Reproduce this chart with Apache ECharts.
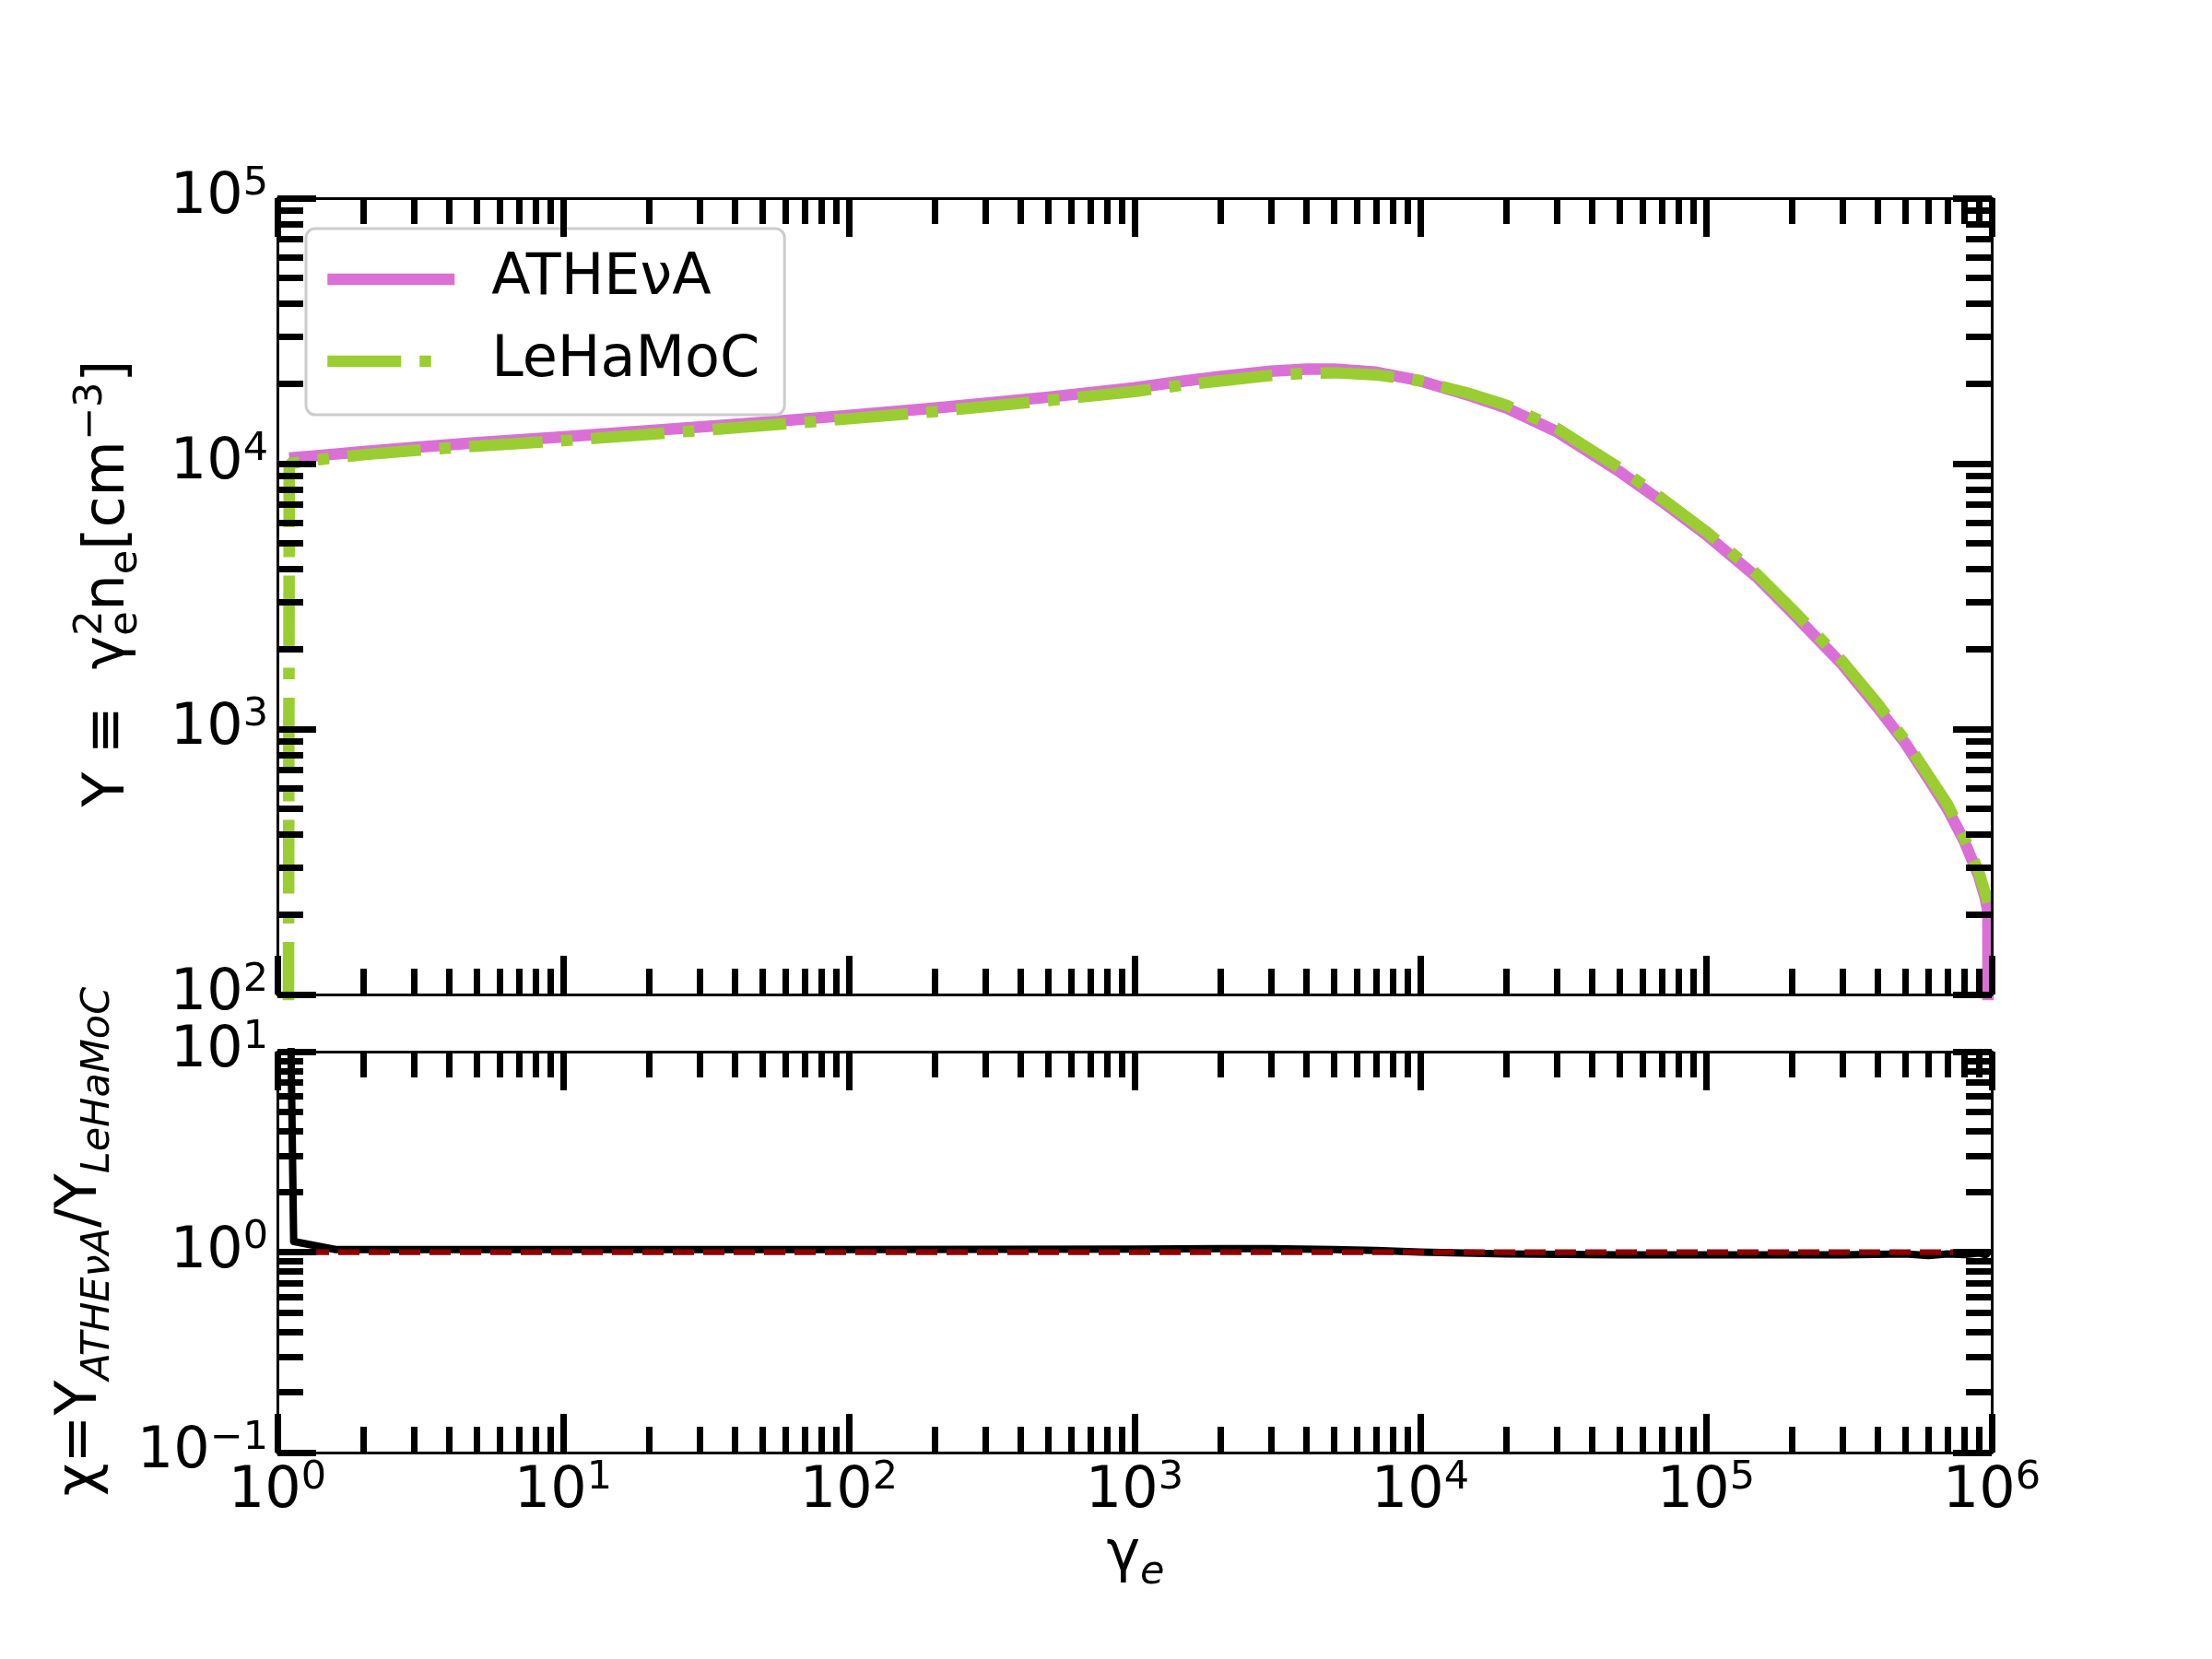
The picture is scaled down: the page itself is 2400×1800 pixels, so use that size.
<!DOCTYPE html>
<html>
<head>
<meta charset="utf-8">
<script src="https://cdn.jsdelivr.net/npm/echarts@6/dist/echarts.min.js"></script>
<style>
html,body{margin:0;padding:0;background:#ffffff;}
#chart{width:2400px;height:1800px;}
</style>
</head>
<body>
<div id="chart"></div>
<script>
// ---------------- data ----------------
const seriesNames = ['ATHE\u03bdA', 'LeHaMoC'];

const gammaAthena = [1.1, 1.5, 2, 3, 5, 10, 20, 50, 100, 200, 500, 1000, 1500, 2000, 3000, 4000, 5000, 7000,
  1e4, 1.5e4, 2e4, 3e4, 5e4, 7e4, 1e5, 1.5e5, 2e5, 3e5, 4e5, 5e5, 6e5, 7e5, 8e5, 9e5, 9.5e5, 9.7e5, 9.72e5];
const yAthena = [1.05e4, 1.08e4, 1.11e4, 1.15e4, 1.20e4, 1.26e4, 1.33e4, 1.43e4, 1.52e4, 1.62e4, 1.78e4, 1.93e4, 2.05e4, 2.13e4, 2.23e4, 2.27e4, 2.27e4, 2.21e4,
  2.05e4, 1.80e4, 1.62e4, 1.32e4, 9.3e3, 7.2e3, 5.4e3, 3.75e3, 2.75e3, 1.75e3, 1.2e3, 880, 650, 500, 380, 280, 230, 205, 5];

const gammaLehamoc = [1.09, 1.1, 1.5, 2, 3, 5, 10, 20, 50, 100, 200, 500, 1000, 1500, 2000, 3000, 4000, 5000, 7000,
  1e4, 1.5e4, 2e4, 3e4, 5e4, 7e4, 1e5, 1.5e5, 2e5, 3e5, 4e5, 5e5, 6e5, 7e5, 8e5, 9e5, 9.5e5, 9.7e5];
const yLehamoc = [10, 1.0e4, 1.045e4, 1.08e4, 1.12e4, 1.165e4, 1.22e4, 1.29e4, 1.39e4, 1.475e4, 1.57e4, 1.73e4, 1.87e4, 1.98e4, 2.05e4, 2.15e4, 2.19e4, 2.20e4, 2.16e4,
  2.05e4, 1.83e4, 1.66e4, 1.36e4, 9.6e3, 7.4e3, 5.55e3, 3.85e3, 2.83e3, 1.8e3, 1.24e3, 900, 670, 520, 390, 290, 240, 222];

const gammaRatio = [1.08, 1.14, 1.6, 3, 10, 100, 1000, 2000, 3000, 5000, 7000, 1e4, 2e4, 5e4, 1e5, 2e5, 3e5, 5e5, 6e5, 7e5, 8e5, 9e5, 9.5e5, 9.7e5];
const ratioValues = [300, 1.13, 1.03, 1.03, 1.03, 1.03, 1.035, 1.04, 1.04, 1.03, 1.02, 1.0, 0.98, 0.97, 0.97, 0.97, 0.97, 0.98, 0.96, 0.98, 0.97, 0.99, 0.97, 0.99];

const unityGamma = [1, 1e6];
const unityValues = [1, 1];

const xTickExponents = ['0', '1', '2', '3', '4', '5', '6'];
const yTopTickExponents = ['2', '3', '4', '5'];
const yBottomTickExponents = ['\u22121', '0', '1'];

// ---------------- helpers ----------------
const FONT = '"DejaVu Sans", "Noto Sans", sans-serif';
const zip = (xs, ys) => xs.map((x, i) => [x, ys[i]]);
const expOf = v => Math.round(Math.log10(v));

const tickRich = {
  b: { fontFamily: FONT, fontSize: 62, lineHeight: 74, color: '#000' },
  s: { fontFamily: FONT, fontSize: 43, lineHeight: 42, verticalAlign: 'top', color: '#000' }
};

function logAxis(o) {
  return {
    type: 'log', logBase: 10, gridIndex: o.grid, position: o.pos, min: o.min, max: o.max,
    z: 5,
    axisLine: { show: true, onZero: false, lineStyle: { color: '#000', width: 3 } },
    axisTick: { show: true, inside: true, length: 42, lineStyle: { color: '#000', width: 7 } },
    minorTick: { show: true, splitNumber: 9, length: 28, lineStyle: { color: '#000', width: 7 } },
    splitLine: { show: false }, minorSplitLine: { show: false },
    axisLabel: o.labels ? {
      show: true, margin: o.margin, showMinLabel: true, showMaxLabel: true,
      formatter: v => '{b|10}{s|' + o.labels[expOf(v) - o.e0] + '}',
      rich: tickRich
    } : { show: false }
  };
}

// math-like label built from text pieces (measured with canvas)
const mctx = document.createElement('canvas').getContext('2d');
function fontStr(s, it) { return (it ? 'italic ' : '') + s + 'px "DejaVu Sans"'; }
function mathLabel(pieces, x, y, rotated) {
  let u = 0, holdW = 0;
  const placed = [];
  pieces.forEach(p => {
    mctx.font = fontStr(p.s, p.it);
    const w = mctx.measureText(p.t).width;
    placed.push({ p: p, u: u });
    if (p.hold) { holdW = Math.max(holdW, w); }
    else { u += Math.max(w, holdW); holdW = 0; }
  });
  const W = u;
  return {
    type: 'group', x: x, y: y, rotation: rotated ? Math.PI / 2 : 0, silent: true,
    children: placed.map(({ p, u }) => ({
      type: 'text', x: u - W / 2, y: (p.dy || 0) - 0.35 * p.s,
      style: {
        text: p.t, font: fontStr(p.s, p.it), fill: '#000',
        align: 'left', verticalAlign: 'middle', textAlign: 'left', textVerticalAlign: 'middle'
      }
    }))
  };
}

const topYLabel = mathLabel([
  { t: 'Y', s: 62 }, { t: ' \u2261  ', s: 62 }, { t: '\u03b3', s: 62 },
  { t: '2', s: 43, dy: -26, hold: true }, { t: 'e', s: 43, dy: 12 },
  { t: 'n', s: 62 }, { t: 'e', s: 43, dy: 12 }, { t: '[cm', s: 62 },
  { t: '\u22123', s: 43, dy: -26 }, { t: ']', s: 62 }
], 140, 633, true);

const bottomYLabel = mathLabel([
  { t: '\u03c7', s: 62 }, { t: '=', s: 62 }, { t: 'Y', s: 62 },
  { t: 'ATHE\u03bdA', s: 43, it: true, dy: 12 }, { t: '/', s: 62 }, { t: 'Y', s: 62 },
  { t: 'LeHaMoC', s: 43, it: true, dy: 12 }
], 110, 1347, true);

const xLabel = mathLabel([
  { t: '\u03b3', s: 62 }, { t: 'e', s: 43, it: true, dy: 12 }
], 1232, 1710, false);

// ---------------- chart ----------------
const chart = echarts.init(document.getElementById('chart'), null, { renderer: 'canvas' });
const option = {
  animation: false,
  backgroundColor: '#ffffff',
  grid: [
    { left: 301, top: 215, width: 1860, height: 864, containLabel: false, outerBoundsMode: 'none' },
    { left: 301, top: 1141, width: 1860, height: 435, containLabel: false, outerBoundsMode: 'none' }
  ],
  xAxis: [
    logAxis({ grid: 0, pos: 'bottom', min: 1, max: 1e6 }),
    logAxis({ grid: 0, pos: 'top', min: 1, max: 1e6 }),
    logAxis({ grid: 1, pos: 'bottom', min: 1, max: 1e6, labels: xTickExponents, e0: 0, margin: 6 }),
    logAxis({ grid: 1, pos: 'top', min: 1, max: 1e6 })
  ],
  yAxis: [
    logAxis({ grid: 0, pos: 'left', min: 100, max: 1e5, labels: yTopTickExponents, e0: 2, margin: 10 }),
    logAxis({ grid: 0, pos: 'right', min: 100, max: 1e5 }),
    logAxis({ grid: 1, pos: 'left', min: 0.1, max: 10, labels: yBottomTickExponents, e0: -1, margin: 10 }),
    logAxis({ grid: 1, pos: 'right', min: 0.1, max: 10 })
  ],
  legend: {
    data: [
      { name: seriesNames[0] },
      { name: seriesNames[1], lineStyle: { type: [80, 20, 12.5, 60] } }
    ],
    orient: 'vertical', left: 332, top: 248,
    padding: [24, 27, 27, 17], itemWidth: 138, itemHeight: 50, itemGap: 27,
    borderColor: '#cccccc', borderWidth: 3, borderRadius: 10,
    backgroundColor: 'rgba(255,255,255,0.8)', selectedMode: false,
    itemStyle: { opacity: 0 },
    lineStyle: { width: 12.5, type: 'inherit', color: 'inherit', cap: 'butt' },
    textStyle: { fontFamily: FONT, fontSize: 62, color: '#000', padding: [0, 0, 0, 35] }
  },
  graphic: [topYLabel, bottomYLabel, xLabel],
  series: [
    {
      name: seriesNames[0], type: 'line', xAxisIndex: 0, yAxisIndex: 0, data: zip(gammaAthena, yAthena),
      symbol: 'none', clip: true, silent: true, z: 2,
      lineStyle: { color: '#DA70D6', width: 12.5, join: 'round', cap: 'butt' },
      itemStyle: { color: '#DA70D6' }
    },
    {
      name: seriesNames[1], type: 'line', xAxisIndex: 0, yAxisIndex: 0, data: zip(gammaLehamoc, yLehamoc),
      symbol: 'none', clip: true, silent: true, z: 3,
      lineStyle: { color: '#9ACD32', width: 12.5, type: [80, 20, 12.5, 20], cap: 'butt' },
      itemStyle: { color: '#9ACD32' }
    },
    {
      name: 'ratio', type: 'line', xAxisIndex: 2, yAxisIndex: 2, data: zip(gammaRatio, ratioValues),
      symbol: 'none', clip: true, silent: true, z: 2,
      lineStyle: { color: '#000000', width: 8, join: 'round' }
    },
    {
      name: 'unity', type: 'line', xAxisIndex: 2, yAxisIndex: 2, data: zip(unityGamma, unityValues),
      symbol: 'none', clip: true, silent: true, z: 3,
      lineStyle: { color: '#8B0000', width: 6.25, type: [23, 10] }
    }
  ]
};
chart.setOption(option);
</script>
</body>
</html>
